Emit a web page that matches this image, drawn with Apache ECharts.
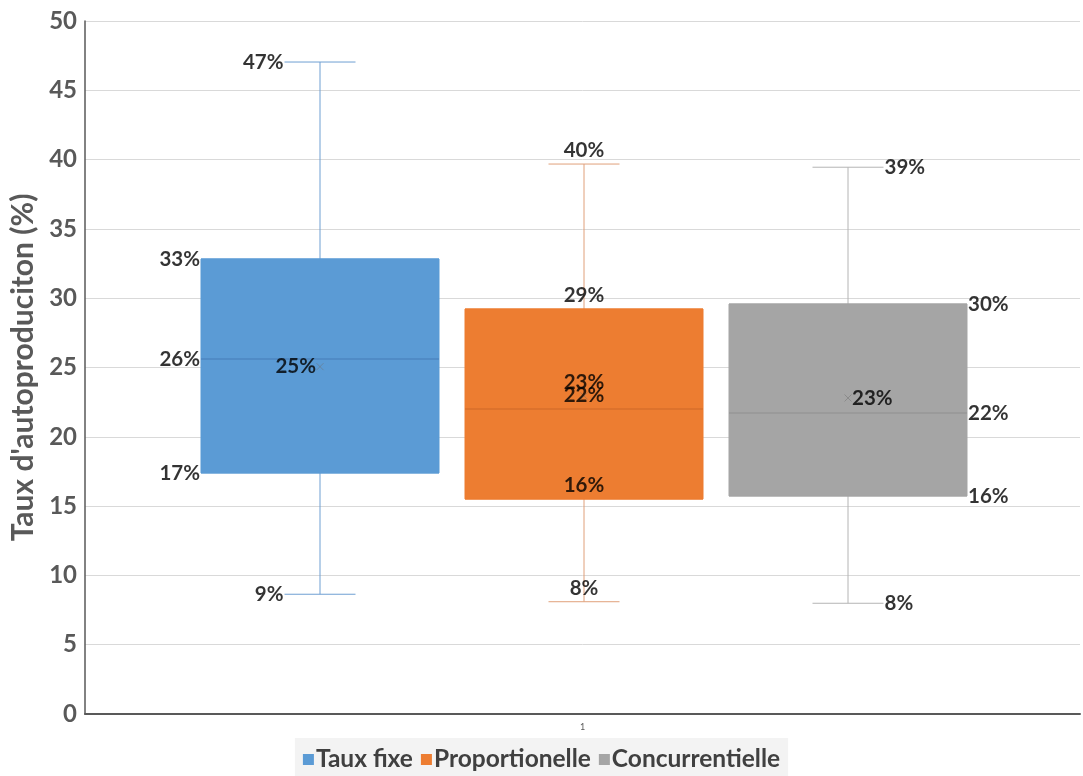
<!DOCTYPE html>
<html><head><meta charset="utf-8">
<script src="https://cdn.jsdelivr.net/npm/echarts@6/dist/echarts.min.js"></script>
<style>html,body{margin:0;padding:0;background:#fff}#c{width:1083px;height:776px}</style>
</head><body><div id="c"></div>
<script>
// ---- data ----
const categories = ['1'];
const seriesNames = ['Taux fixe', 'Proportionelle', 'Concurrentielle'];
const minVals = [8.64, 8.10, 7.99];
const q1Vals = [17.39, 15.51, 15.73];
const medianVals = [25.61, 22.0, 21.72];
const q3Vals = [32.83, 29.22, 29.58];
const maxVals = [47.04, 39.68, 39.45];
const meanVals = [25.06, 22.95, 22.80];
const yTickLabels = ['0','5','10','15','20','25','30','35','40','45','50'];

// ---- styles ----
const FONT = 'Lato';
const fillColors = ['#5b9bd5', '#ed7d31', '#a5a5a5'];
const whiskerColors = ['#6e9fd2', '#e0a07a', '#b4b4b4'];
const medianColors = ['#4a83bd', '#d46d2a', '#939393'];
const boxCenters = [320, 584, 848];
const slotW = 264, boxW = 238, capW = 71;
const gridTop = 21, gridBottom = 62;
const labelPos = ['left', 'top', 'right'];

const grids = [{ left: 85, right: 3, top: gridTop, bottom: gridBottom, containLabel: false }];
const xAxes = [{
  type: 'category', gridIndex: 0, data: categories,
  axisLine: { show: true, lineStyle: { color: '#595959', width: 2 } },
  axisTick: { show: false },
  axisLabel: { color: '#595959', fontSize: 9, fontFamily: FONT, margin: 9 },
  splitLine: { show: false }
}];
const yAxes = [{
  type: 'value', gridIndex: 0, min: 0, max: 50, interval: 5,
  name: "Taux d'autoproduciton (%)", nameLocation: 'middle', nameGap: 43,
  nameTextStyle: { color: '#595959', fontSize: 30, fontWeight: 'bold', fontFamily: FONT },
  axisLine: { show: true, lineStyle: { color: '#595959', width: 1.5 } },
  axisTick: { show: false },
  axisLabel: { color: '#595959', fontSize: 24, fontWeight: 'bold', fontFamily: FONT, margin: 8,
    formatter: (v) => yTickLabels[Math.round(v / 5)] },
  splitLine: { show: true, lineStyle: { color: '#d9d9d9', width: 1 } }
}];
const series = [];

const crossPath = 'path://M0,0L10,10M10,0L0,10';

for (let i = 0; i < seriesNames.length; i++) {
  const gi = i + 1;
  grids.push({ left: boxCenters[i] - slotW / 2, width: slotW, top: gridTop, bottom: gridBottom });
  const xw = xAxes.length;
  xAxes.push({ type: 'category', gridIndex: gi, data: categories, show: false });
  const xb = xAxes.length;
  xAxes.push({ type: 'category', gridIndex: gi, data: categories, show: false });
  const yi = yAxes.length;
  yAxes.push({ type: 'value', gridIndex: gi, min: 0, max: 50, interval: 5, show: false, splitLine: { show: false } });

  // whiskers + caps
  series.push({
    type: 'boxplot', name: '_w' + i, xAxisIndex: xw, yAxisIndex: yi, z: 2,
    boxWidth: [capW, capW], silent: true,
    data: [[minVals[i], medianVals[i], medianVals[i], medianVals[i], maxVals[i]]],
    itemStyle: { color: 'transparent', borderColor: whiskerColors[i], borderWidth: 1 }
  });
  // box
  series.push({
    type: 'boxplot', name: seriesNames[i], xAxisIndex: xb, yAxisIndex: yi, z: 3,
    boxWidth: [boxW, boxW],
    data: [[q1Vals[i], q1Vals[i], medianVals[i], q3Vals[i], q3Vals[i]]],
    itemStyle: { color: fillColors[i], borderColor: fillColors[i], borderWidth: 1 }
  });
  // median line
  series.push({
    type: 'scatter', name: '_m' + i, xAxisIndex: xb, yAxisIndex: yi, z: 4, silent: true,
    symbol: 'rect', symbolSize: [boxW, 1.5],
    itemStyle: { color: medianColors[i] },
    data: [[categories[0], medianVals[i]]]
  });
  // mean marker
  series.push({
    type: 'scatter', name: '_x' + i, xAxisIndex: xb, yAxisIndex: yi, z: 5, silent: true,
    symbol: crossPath, symbolSize: 7,
    itemStyle: { color: 'none', borderColor: 'rgba(110,110,110,0.6)', borderWidth: 1 },
    data: [[categories[0], meanVals[i]]]
  });
  // labels
  const pos = labelPos[i];
  const pts = [
    [maxVals[i], 'cap'], [q3Vals[i], 'box'], [medianVals[i], 'box'],
    [q1Vals[i], 'box'], [minVals[i], 'cap'], [meanVals[i], 'mean']
  ];
  const distFor = (k) => pos === 'top' ? 3 : (k === 'cap' ? capW / 2 + 1 : k === 'box' ? boxW / 2 + 1 : 4);
  series.push({
    type: 'scatter', name: '_l' + i, xAxisIndex: xb, yAxisIndex: yi, z: 6, silent: true,
    symbolSize: 0,
    data: pts.map(p => ({
      value: [categories[0], p[0]],
      label: { show: true, position: pos, distance: distFor(p[1]),
        formatter: Math.round(p[0]) + '%',
        color: '#000', fontSize: 20.5, fontWeight: 'bold', fontFamily: FONT }
    }))
  });
}

const option = {
  animation: false,
  backgroundColor: '#fff',
  grid: grids, xAxis: xAxes, yAxis: yAxes,
  legend: {
    data: seriesNames, left: 'center', top: 738,
    backgroundColor: '#f3f3f3', padding: [9, 8, 8, 8],
    icon: 'rect', itemWidth: 9, itemHeight: 9, itemGap: 8,
    textStyle: { color: '#404040', fontSize: 24.5, fontWeight: 'bold', fontFamily: FONT, padding: [0, 0, 0, -2] }
  },
  series: series
};
const chart = echarts.init(document.getElementById('c'), null, { renderer: 'canvas' });
chart.setOption(option);
</script>
</body></html>
